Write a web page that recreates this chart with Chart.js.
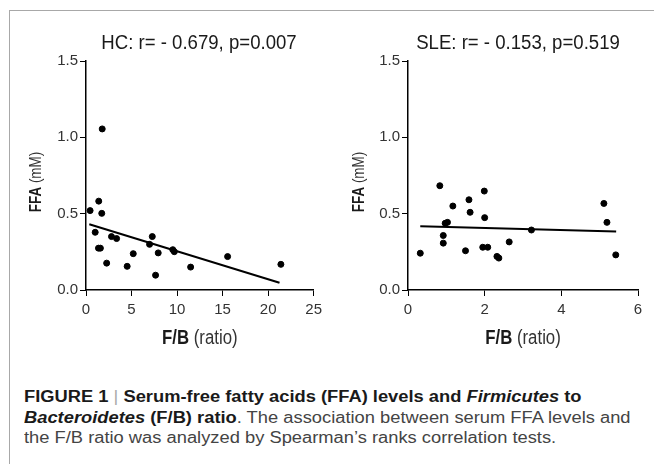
<!DOCTYPE html>
<html>
<head>
<meta charset="utf-8">
<script src="https://cdn.jsdelivr.net/npm/chart.js@4"></script>
<style>
  body { margin: 0; background: #fff; width: 654px; height: 465px; overflow: hidden; position: relative; }
  #frame { position: absolute; left: 9px; top: 10px; width: 700px; height: 453px; border-left: 1.5px solid #a8a8a8; border-top: 1.5px solid #a8a8a8; }
  canvas { position: absolute; top: 0; }
  #c1 { left: 0; }
  #c2 { left: 327px; }
  #caption { position: absolute; left: 24px; top: 387px; font-family: "Liberation Sans", Arial, sans-serif; font-size: 16px; line-height: 20.5px; color: #444; white-space: nowrap; transform: scaleX(1.145); transform-origin: 0 0; }
  #caption b { color: #1a1a1a; }
  #caption .sep { color: #aaa; font-weight: normal; }
</style>
</head>
<body>
<div id="frame"></div>
<canvas id="c1" width="327" height="350"></canvas>
<canvas id="c2" width="327" height="350"></canvas>
<div id="caption"><b>FIGURE 1 <span class="sep">|</span> Serum-free fatty acids (FFA) levels and <i>Firmicutes</i> to</b><br><b><i>Bacteroidetes</i> (F/B) ratio</b>. The association between serum FFA levels and<br>the F/B ratio was analyzed by Spearman’s ranks correlation tests.</div>
<script>
// HC panel
const hcRatio = [0.45, 1.78, 1.4, 1.73, 1.01, 1.37, 1.58, 2.27, 2.8, 3.36, 4.52, 5.19, 6.98, 7.28, 7.64, 7.93, 9.53, 9.7, 11.49, 15.55, 21.4];
const hcFfa   = [0.52, 1.055, 0.582, 0.502, 0.378, 0.274, 0.274, 0.176, 0.35, 0.337, 0.155, 0.238, 0.299, 0.35, 0.097, 0.243, 0.264, 0.251, 0.15, 0.219, 0.168];
const hcFitX  = [0.36, 21.25];
const hcFitY  = [0.431, 0.048];

// SLE panel
const sleRatio = [0.32, 0.83, 0.92, 0.92, 0.97, 1.03, 1.17, 1.5, 1.59, 1.62, 1.99, 2.0, 1.95, 2.08, 2.32, 2.37, 2.64, 3.22, 5.11, 5.19, 5.42];
const sleFfa   = [0.241, 0.683, 0.357, 0.307, 0.437, 0.443, 0.55, 0.257, 0.591, 0.509, 0.648, 0.474, 0.28, 0.28, 0.22, 0.209, 0.315, 0.393, 0.567, 0.443, 0.23];
const sleFitX  = [0.32, 5.43];
const sleFitY  = [0.417, 0.383];

const yTicks = [0, 0.5, 1.0, 1.5];
const hcXTicks = [0, 5, 10, 15, 20, 25];
const sleXTicks = [0, 2, 4, 6];

const FONT = '"Liberation Sans", Arial, sans-serif';

const textPlugin = {
  id: 'panelText',
  afterDraw(chart, args, opts) {
    const ctx = chart.ctx;
    const a = chart.chartArea;
    ctx.save();
    ctx.textBaseline = 'middle';
    // panel title, slightly condensed like the original export
    drawMixed(ctx, '', opts.title, opts.titleX, 43, 20, 0.93);
    // x title: bold part + normal part
    drawMixed(ctx, opts.xBold, opts.xRest, (a.left + a.right) / 2, 338, 20, 0.84);
    // y title rotated
    ctx.save();
    ctx.translate(opts.yTitleX, 182);
    ctx.rotate(-Math.PI / 2);
    drawMixed(ctx, 'FFA', ' (mM)', 0, 0, 16, 0.84);
    ctx.restore();
    ctx.restore();
  }
};

function drawMixed(ctx, boldText, restText, cx, cy, size, sx) {
  ctx.save();
  ctx.translate(cx, cy);
  ctx.scale(sx, 1);
  ctx.font = 'bold ' + size + 'px ' + FONT;
  const w1 = boldText ? ctx.measureText(boldText).width : 0;
  ctx.font = size + 'px ' + FONT;
  const w2 = ctx.measureText(restText).width;
  const x0 = -(w1 + w2) / 2;
  ctx.textAlign = 'left';
  if (boldText) {
    ctx.font = 'bold ' + size + 'px ' + FONT;
    ctx.fillStyle = '#1a1a1a';
    ctx.fillText(boldText, x0, 0);
  }
  ctx.font = size + 'px ' + FONT;
  ctx.fillStyle = boldText ? '#333' : '#1a1a1a';
  ctx.fillText(restText, x0 + w1, 0);
  ctx.restore();
}

function makePanel(id, xs, ys, fitX, fitY, xTicks, xMax, yAxisWidth, padRight, texts) {
  new Chart(document.getElementById(id), {
    type: 'scatter',
    data: {
      datasets: [
        {
          data: xs.map((x, i) => ({ x: x, y: ys[i] })),
          backgroundColor: '#000',
          borderColor: '#000',
          pointRadius: 3,
          pointHoverRadius: 3
        },
        {
          type: 'line',
          data: fitX.map((x, i) => ({ x: x, y: fitY[i] })),
          borderColor: '#000',
          borderWidth: 2,
          pointRadius: 0,
          fill: false
        }
      ]
    },
    options: {
      responsive: false,
      animation: false,
      events: [],
      layout: { padding: { left: 0, right: padRight, top: 61, bottom: 0 } },
      plugins: {
        legend: { display: false },
        tooltip: { enabled: false },
        panelText: texts
      },
      scales: {
        x: {
          type: 'linear',
          min: 0,
          max: xMax,
          afterFit(scale) { scale.height = 60; },
          afterBuildTicks(scale) { scale.ticks = xTicks.map(v => ({ value: v })); },
          grid: { display: true, drawOnChartArea: false, drawTicks: true, tickLength: 6, color: '#000', lineWidth: 1 },
          border: { display: true, color: '#000', width: 1.5 },
          ticks: { color: '#333', padding: 5, maxRotation: 0, font: { family: FONT, size: 15 } }
        },
        y: {
          min: 0,
          max: 1.5,
          afterFit(scale) { scale.width = yAxisWidth; },
          afterBuildTicks(scale) { scale.ticks = yTicks.map(v => ({ value: v })); },
          grid: { display: true, drawOnChartArea: false, drawTicks: true, tickLength: 6, color: '#000', lineWidth: 1 },
          border: { display: true, color: '#000', width: 1.5 },
          ticks: { color: '#333', padding: 2, font: { family: FONT, size: 15 }, callback: v => v.toFixed(1) }
        }
      }
    },
    plugins: [textPlugin]
  });
}

makePanel('c1', hcRatio, hcFfa, hcFitX, hcFitY, hcXTicks, 25, 86, 12,
  { title: 'HC: r= - 0.679, p=0.007', titleX: 199, xBold: 'F/B', xRest: ' (ratio)', yTitleX: 37 });
makePanel('c2', sleRatio, sleFfa, sleFitX, sleFitY, sleXTicks, 6, 81, 16,
  { title: 'SLE: r= - 0.153, p=0.519', titleX: 191, xBold: 'F/B', xRest: ' (ratio)', yTitleX: 33 });
</script>
</body>
</html>
